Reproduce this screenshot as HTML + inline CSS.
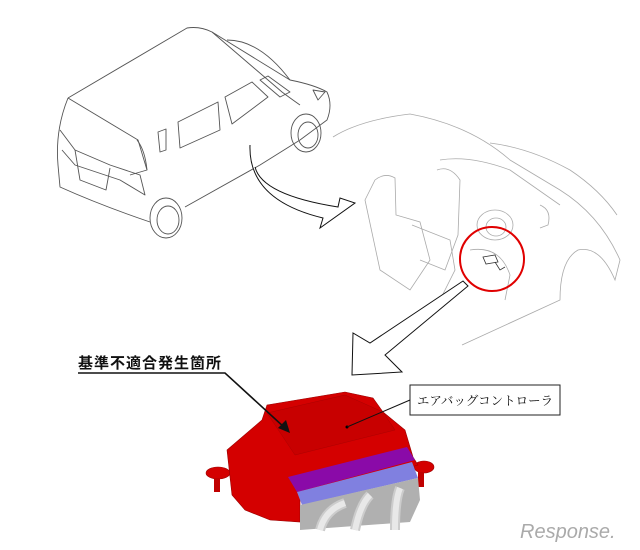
<!DOCTYPE html>
<html><head><meta charset="utf-8"><style>
html,body{margin:0;padding:0;background:#fff}
svg{display:block}
</style></head><body>
<svg width="640" height="550" viewBox="0 0 640 550" xmlns="http://www.w3.org/2000/svg">
<g fill="none" stroke="#555" stroke-width="0.9" stroke-linejoin="round">
 <path d="M68,98 L187,28 Q200,26 212,32 L290,80 Q315,85 327,92 Q333,105 327,120 L300,140 L260,165 L185,207"/>
 <path d="M227,40 Q260,40 290,80"/>
 <path d="M212,32 L282,92 Q290,98 300,105"/>
 <path d="M68,98 Q55,130 58,165 L60,187 Q100,205 150,222"/>
 <path d="M68,98 L138,140 L147,170"/>
 <path d="M60,130 L75,150 L110,165 L140,175 L145,195 L120,180 L75,165 L62,150"/>
 <path d="M75,150 L80,180 L106,190 L110,168"/>
 <path d="M137,140 Q145,150 147,170 L130,175"/>
 <path d="M158,132 L166,129 L166,150 L160,152 Z"/>
 <path d="M178,122 L218,102 L220,130 L180,148 Z"/>
 <path d="M225,97 L252,82 L268,97 L232,124 Z"/>
 <path d="M260,80 L268,76 L290,92 L280,97 Z"/>
 <path d="M313,90 L325,92 L318,100 Z"/>
 <ellipse cx="166" cy="218" rx="16" ry="20"/>
 <ellipse cx="168" cy="220" rx="11" ry="14"/>
 <ellipse cx="306" cy="133" rx="15" ry="19"/>
 <ellipse cx="308" cy="135" rx="10" ry="13"/>
</g>
<g fill="none" stroke="#aaa" stroke-width="0.8">
 <path d="M333,137 Q360,120 410,114 Q470,125 510,160 L560,190 Q600,215 620,260 L615,280 Q600,245 578,250 Q560,260 560,300 L462,345"/>
 <path d="M490,143 Q530,148 570,170 Q600,190 617,215"/>
 <path d="M440,160 Q470,155 510,170 L560,205"/>
 <path d="M375,180 Q385,172 395,178 L396,215 L420,222 L430,260 L410,290 L380,270 L365,200 Z"/>
 <path d="M437,170 Q450,165 460,180 L458,235 L445,270 L420,260"/>
 <path d="M412,225 L450,240 L455,270 L440,300"/>
 <ellipse cx="495" cy="225" rx="18" ry="15"/>
 <ellipse cx="496" cy="227" rx="10" ry="9"/>
 <path d="M540,205 Q552,210 548,225 L540,228"/>
 <path d="M470,250 Q500,245 510,275 L505,300"/>
</g>
<circle cx="492" cy="259" r="32" fill="none" stroke="#e00000" stroke-width="2"/>
<g fill="none" stroke="#333" stroke-width="0.8">
 <path d="M483,257 L495,255 L498,262 L486,264 Z"/>
 <path d="M495,262 L500,270 L505,267"/>
</g>
<path d="M250,145 Q248,200 323,218 L320,228 L355,203 L340,198 L338,207 Q262,195 255,167" fill="#fff" stroke="#111" stroke-width="1"/>
<path d="M463,281 L370,343 L353,333 L352,375 L402,372 L385,355 L468,286 Z" fill="#fff" stroke="#111" stroke-width="1"/>
<g>
 <ellipse cx="218" cy="473" rx="12" ry="6" fill="#d40000" stroke="#900" stroke-width="0.6"/>
 <ellipse cx="424" cy="467" rx="10" ry="6" fill="#d40000" stroke="#900" stroke-width="0.6"/>
 <path d="M214,478 L214,492 L220,492 L220,478 Z M418,472 L418,487 L424,487 L424,472 Z" fill="#c00000"/>
 <path d="M227,450 L262,420 L267,405 L345,392 L373,398 L383,412 L405,430 L413,457 L418,465 L300,500 L300,522 L270,520 L245,510 L232,495 Z" fill="#d40000" stroke="#900" stroke-width="0.6"/>
 <path d="M267,413 L345,395 L383,412 L395,430 L295,455 Z" fill="#c80000" stroke="#a00" stroke-width="0.5"/>
 <path d="M288,477 L407,447 L415,460 L297,492 Z" fill="#8a0aa8"/>
 <path d="M297,492 L412,462 L418,478 L302,505 Z" fill="#8080e0"/>
 <path d="M300,505 L418,478 L420,500 L410,522 L300,530 Z" fill="#b0b0b0"/>
 <path d="M320,530 Q325,510 345,503 M355,530 Q360,505 370,495 M395,530 Q395,500 400,488" stroke="#ccc" stroke-width="10" fill="none"/>
 <path d="M320,530 Q325,510 345,503 M355,530 Q360,505 370,495 M395,530 Q395,500 400,488" stroke="#e8e8e8" stroke-width="6" fill="none"/>
 <circle cx="347" cy="427" r="1.5" fill="#000"/>
</g>
<rect x="410" y="385" width="150" height="30" fill="#fff" stroke="#222" stroke-width="1"/>
<text x="485" y="405" text-anchor="middle" font-family="'Liberation Serif','Noto Serif CJK SC',serif" font-size="12.5" fill="#111">エアバッグコントローラ</text>
<line x1="347" y1="427" x2="410" y2="400" stroke="#111" stroke-width="1"/>
<text x="78" y="368" font-family="'Liberation Sans','Noto Sans CJK JP',sans-serif" font-size="15" font-weight="bold" fill="#111" letter-spacing="1">基準不適合発生箇所</text>
<path d="M78,373 L225,373 L285,428" fill="none" stroke="#111" stroke-width="1.6"/>
<path d="M290,433 L278,428 L286,420 Z" fill="#111"/>
<text x="520" y="538" font-family="'Liberation Sans',sans-serif" font-size="20" fill="#aaa" font-style="italic">Response.</text>
</svg>
</body></html>
